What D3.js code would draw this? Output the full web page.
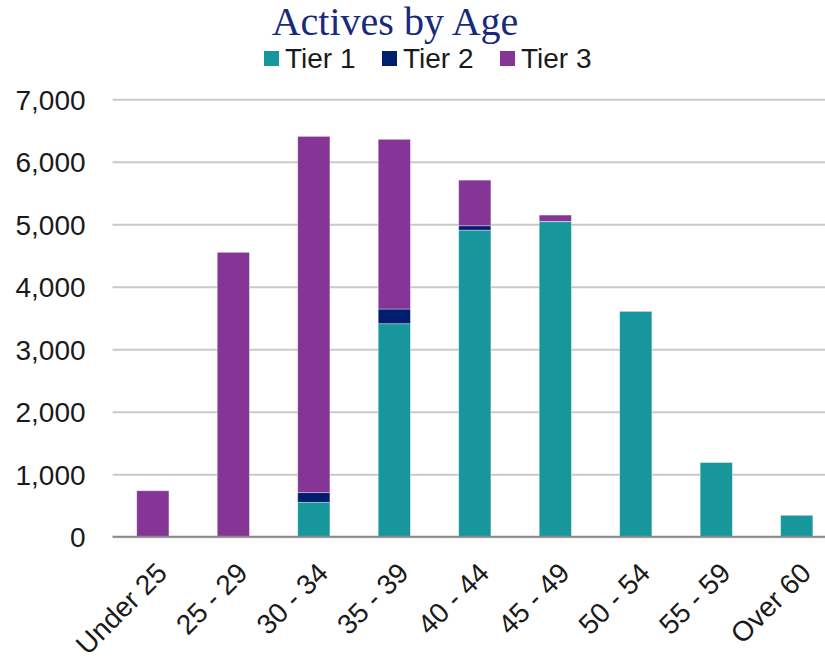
<!DOCTYPE html>
<html>
<head>
<meta charset="utf-8">
<script src="https://cdn.jsdelivr.net/npm/d3@7"></script>
<style>
  body { margin: 0; background: #fff; }
  svg { display: block; }
  .axis text { font-family: "Liberation Sans", Arial, sans-serif; fill: #1a1a1a; }
</style>
</head>
<body>
<div id="chart"></div>
<script>
/************ data *************/
var ageGroups = ["Under 25", "25 - 29", "30 - 34", "35 - 39", "40 - 44", "45 - 49", "50 - 54", "55 - 59", "Over 60"];
var tier1 = [0, 0, 550, 3408, 4905, 5040, 3605, 1188, 343];
var tier2 = [0, 0, 155, 235, 70, 6, 0, 0, 0];
var tier3 = [735, 4550, 5700, 2715, 730, 100, 5, 2, 4];
var seriesNames = ["Tier 1", "Tier 2", "Tier 3"];
var seriesColors = ["#17979c", "#001d6e", "#853596"];
var yTicks = [0, 1000, 2000, 3000, 4000, 5000, 6000, 7000];

// rows for d3.stack
var rows = ageGroups.map(function(a, i) {
  return { age: a, "Tier 1": tier1[i], "Tier 2": tier2[i], "Tier 3": tier3[i] };
});

/************ layout *************/
var W = 825, H = 665;
var plotLeft = 112.6, plotRight = 837, plotTop = 99.2, plotBottom = 536.7;

var svg = d3.select("#chart").append("svg")
    .attr("width", W)
    .attr("height", H);

var x = d3.scaleBand().domain(ageGroups).range([plotLeft, plotRight])
    .paddingInner(0.6).paddingOuter(0.3);
var y = d3.scaleLinear().domain([0, 7000]).range([plotBottom, plotTop]);
var color = d3.scaleOrdinal().domain(seriesNames).range(seriesColors);

// gridlines
var yGrid = d3.axisLeft(y).tickValues(yTicks).tickSize(-(W - plotLeft)).tickFormat("");
svg.append("g")
    .attr("transform", "translate(" + plotLeft + ",0)")
    .call(yGrid)
    .call(function(g) {
      g.select(".domain").remove();
      g.selectAll("line").attr("stroke", "#c9c9c9").attr("stroke-width", 2);
    });

// y axis labels
var yAxis = d3.axisLeft(y).tickValues(yTicks).tickSize(0).tickPadding(27)
    .tickFormat(d3.format(",.0f"));
svg.append("g")
    .attr("class", "axis")
    .attr("transform", "translate(" + plotLeft + ",0)")
    .call(yAxis)
    .call(function(g) {
      g.select(".domain").remove();
      g.selectAll("text").style("font-size", "28px").attr("dy", "0.35em");
    });

// stacked bars
var stacked = d3.stack().keys(seriesNames)(rows);
svg.append("g").selectAll("g")
  .data(stacked)
  .enter().append("g")
    .attr("fill", function(d) { return color(d.key); })
  .selectAll("rect")
  .data(function(d) { return d; })
  .enter().append("rect")
    .attr("x", function(d) { return x(d.data.age); })
    .attr("width", x.bandwidth())
    .attr("y", function(d) { return y(d[1]); })
    .attr("height", function(d) { return y(d[0]) - y(d[1]); })
    .attr("stroke", "#ffffff")
    .attr("stroke-opacity", 0.45)
    .attr("stroke-width", 0.8);

// x axis
var xAxis = d3.axisBottom(x).tickSize(0).tickPadding(0);
svg.append("g")
    .attr("class", "axis")
    .attr("transform", "translate(0," + plotBottom + ")")
    .call(xAxis)
    .call(function(g) {
      g.select(".domain").attr("d", "M" + plotLeft + ",0H" + W)
        .attr("stroke", "#8a8a8a").attr("stroke-width", 2);
      g.selectAll("text")
        .style("font-size", "28px")
        .style("text-anchor", "end")
        .attr("dx", "0")
        .attr("dy", "0")
        .attr("transform", "translate(16,38) rotate(-45)");
    });

/************ title & legend *************/
svg.append("text")
    .attr("x", 395)
    .attr("y", 35)
    .attr("text-anchor", "middle")
    .style("font-family", "'Palatino Linotype', 'Book Antiqua', Palatino, 'Liberation Serif', serif")
    .style("font-size", "40px")
    .style("fill", "#172a7c")
    .text("Actives by Age");

var legendX = [264, 382, 500];
var legend = svg.append("g");
seriesNames.forEach(function(s, i) {
  legend.append("rect")
      .attr("x", legendX[i]).attr("y", 51)
      .attr("width", 15).attr("height", 15)
      .attr("fill", seriesColors[i]);
  legend.append("text")
      .attr("x", legendX[i] + 21).attr("y", 68)
      .style("font-family", "'Liberation Sans', Arial, sans-serif")
      .style("font-size", "28px")
      .style("fill", "#1a1a1a")
      .text(s);
});
</script>
</body>
</html>
